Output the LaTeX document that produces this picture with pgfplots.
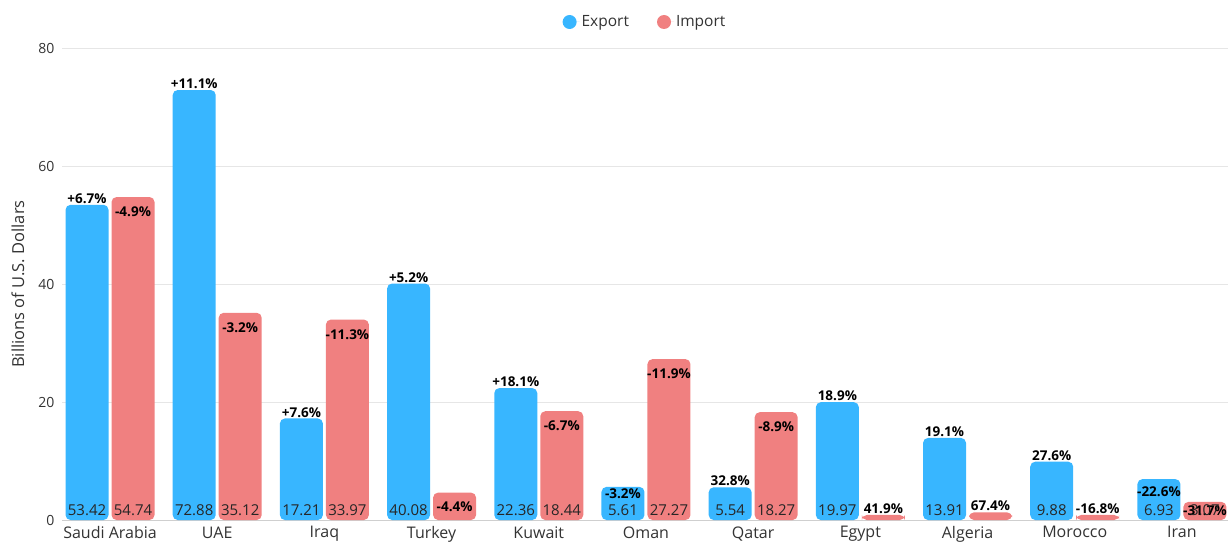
\documentclass[border=0pt]{standalone}
\usepackage{fontspec}
\setmainfont{Open Sans}
\usepackage{pgfplots}
\usepackage{pgfplotstable}
\pgfplotsset{compat=1.18}
\definecolor{expc}{HTML}{38B6FF}
\definecolor{impc}{HTML}{F08080}
\definecolor{gridc}{HTML}{E6E6E6}
\definecolor{basec}{HTML}{CFCFCF}
\definecolor{txt}{HTML}{333333}
\pgfplotstableread{
x v pct off
0 53.42 +6.7 0
1 72.88 +11.1 0
2 17.21 +7.6 0
3 40.08 +5.2 0
4 22.36 +18.1 0
5 5.61 -3.2 -13
6 5.54 32.8 0
7 19.97 18.9 0
8 13.91 19.1 0
9 9.88 27.6 0
10 6.93 -22.6 -19
}\exportdata
\pgfplotstableread{
x v pct off
0 54.74 -4.9 -21
1 35.12 -3.2 -21
2 33.97 -11.3 -21
3 4.64 -4.4 -20
4 18.44 -6.7 -21
5 27.27 -11.9 -21
6 18.27 -8.9 -21
7 0.85 41.9 0
8 1.30 67.4 0
9 0.85 -16.8 0
10 3.07 -31.7 -15
}\importdata
\begin{document}
\begin{tikzpicture}
\path[use as bounding box] (0,0) rectangle (1230pt,541pt);
\begin{axis}[
  at={(62pt,21pt)}, anchor=south west,
  scale only axis, width=1166pt, height=472pt,
  xmin=-0.448, xmax=10.43, ymin=0, ymax=80,
  ytick={0,20,40,60,80},
  xtick={0,...,10},
  xticklabels={Saudi Arabia,UAE,Iraq,Turkey,Kuwait,Oman,Qatar,Egypt,Algeria,Morocco,Iran},
  ymajorgrids, grid style={gridc, line width=0.8pt},
  separate axis lines,
  axis x line*=bottom, axis y line*=left,
  y axis line style={draw=none},
  x axis line style={basec, line width=1pt, -},
  major tick length=0pt,
  /pgf/number format/assume math mode=true,
  yticklabel style={font=\fontsize{14}{16}\selectfont, text=txt, xshift=-4pt},
  xticklabel style={font=\fontsize{16}{19}\selectfont, text=txt, yshift=-3pt},
  ylabel={Billions of U.S. Dollars},
  every axis y label/.style={at={(axis description cs:-0.0377,0.5)}, rotate=90, anchor=center, font=\fontsize{16.5}{19}\selectfont, text=txt},
  ybar, bar width=43pt,
  clip=false,
  legend style={at={(0.5,1)}, anchor=center, yshift=26pt, draw=none, fill=none,
    legend columns=2, font=\fontsize{15.5}{18}\selectfont, text=txt,
    /tikz/every even column/.append style={column sep=26pt}},
]
\addplot[fill=expc, draw=none, bar shift=-23pt, rounded corners=5pt,
  legend image code/.code={\fill[expc] (7pt,0pt) circle (7pt); \path (0pt,0pt) -- (17pt,0pt);},
  point meta=explicit symbolic,
  visualization depends on={\thisrow{off}\as\off},
  nodes near coords={\pgfplotspointmeta\%},
  nodes near coords style={font=\bfseries\fontsize{13.5}{15}\selectfont, text=black, anchor=south, inner sep=1pt, yshift=\off, rounded corners=0pt}]
  table[x=x, y=v, meta=pct]{\exportdata};
\addlegendentry{Export}
\addplot[fill=impc, draw=none, bar shift=23pt, rounded corners=5pt,
  legend image code/.code={\fill[impc] (7pt,0pt) circle (7pt); \path (0pt,0pt) -- (17pt,0pt);},
  point meta=explicit symbolic,
  visualization depends on={\thisrow{off}\as\off},
  nodes near coords={\pgfplotspointmeta\%},
  nodes near coords style={font=\bfseries\fontsize{13.5}{15}\selectfont, text=black, anchor=south, inner sep=1pt, yshift=\off, rounded corners=0pt}]
  table[x=x, y=v, meta=pct]{\importdata};
\addlegendentry{Import}
\addplot[draw=none, fill=none, bar shift=-23pt, forget plot,
  point meta=explicit symbolic, nodes near coords,
  nodes near coords style={font=\fontsize{15}{18}\selectfont, text=black!85, anchor=center, yshift=10pt}]
  coordinates {(0,0)[53.42] (1,0)[72.88] (2,0)[17.21] (3,0)[40.08] (4,0)[22.36] (5,0)[5.61] (6,0)[5.54] (7,0)[19.97] (8,0)[13.91] (9,0)[9.88] (10,0)[6.93]};
\addplot[draw=none, fill=none, bar shift=23pt, forget plot,
  point meta=explicit symbolic, nodes near coords,
  nodes near coords style={font=\fontsize{15}{18}\selectfont, text=black!85, anchor=center, yshift=10pt}]
  coordinates {(0,0)[54.74] (1,0)[35.12] (2,0)[33.97] (4,0)[18.44] (5,0)[27.27] (6,0)[18.27] (10,0)[3.07]};
\end{axis}
\end{tikzpicture}
\end{document}
